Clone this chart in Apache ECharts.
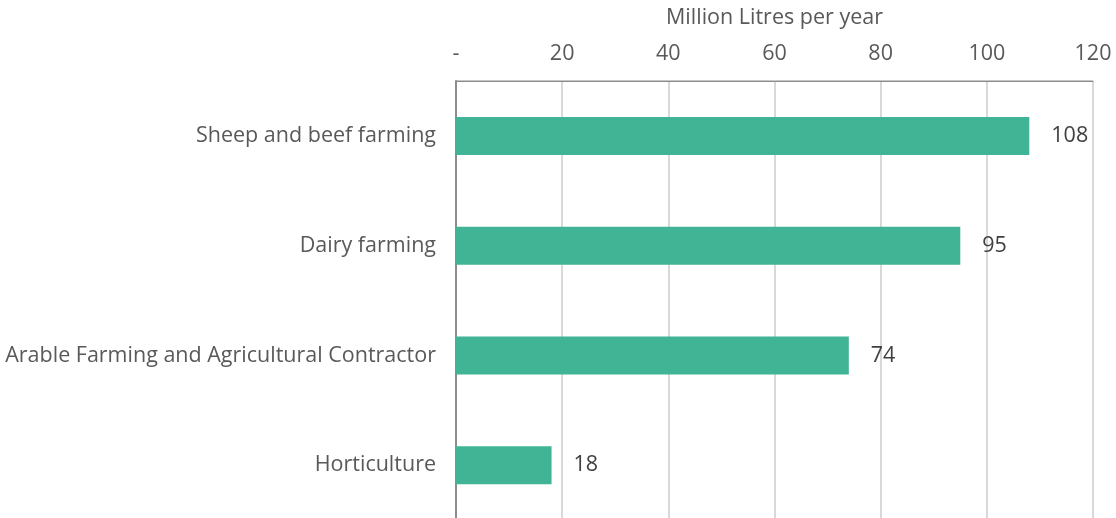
<!DOCTYPE html>
<html>
<head>
<meta charset="utf-8">
<script src="https://cdn.jsdelivr.net/npm/echarts@6/dist/echarts.min.js"></script>
<style>
  html, body { margin: 0; padding: 0; background: #fff; }
  #chart { width: 1116px; height: 518px; }
</style>
</head>
<body>
<div id="chart"></div>
<script>
// categories, top to bottom
const categories = [
  "Sheep and beef farming",
  "Dairy farming",
  "Arable Farming and Agricultural Contractor",
  "Horticulture"
];
const litres = [108, 95, 74, 18];
const axisName = "Million Litres per year";

const myChart = echarts.init(document.getElementById("chart"));
myChart.setOption({
  animation: false,
  textStyle: { fontFamily: "Open Sans" },
  grid: {
    left: 456,
    right: 23,
    top: 81,
    bottom: -2,
    outerBoundsMode: "none",
    containLabel: false,
    show: true,
    borderColor: "#8c8c8c",
    borderWidth: 1
  },
  xAxis: {
    type: "value",
    position: "top",
    min: 0,
    max: 120,
    interval: 20,
    name: axisName,
    nameLocation: "middle",
    nameGap: 52,
    nameTextStyle: { color: "#595959", fontSize: 21.5 },
    axisLine: { show: true, lineStyle: { color: "#8c8c8c" } },
    axisTick: { show: false },
    axisLabel: {
      color: "#595959",
      fontSize: 21.5,
      margin: 16,
      formatter: v => (v === 0 ? "-" : v)
    },
    splitLine: { show: true, lineStyle: { color: "#d9d9d9", width: 2 } }
  },
  yAxis: {
    type: "category",
    inverse: true,
    data: categories,
    axisLine: { show: true, lineStyle: { color: "#8c8c8c", width: 2 } },
    axisTick: { show: false },
    axisLabel: { color: "#595959", fontSize: 21.5, margin: 20 }
  },
  series: [
    {
      type: "bar",
      data: litres,
      barWidth: 38,
      itemStyle: { color: "#41b496" },
      label: {
        show: true,
        position: "right",
        distance: 22,
        color: "#404040",
        fontSize: 21.5
      }
    }
  ]
});
</script>
</body>
</html>
